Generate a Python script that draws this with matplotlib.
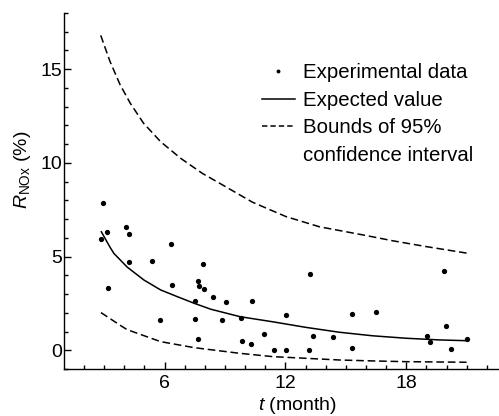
import numpy as np
import matplotlib
matplotlib.use('Agg')
import matplotlib.pyplot as plt
from matplotlib.lines import Line2D

plt.rcParams['font.family'] = ['Liberation Sans', 'DejaVu Sans']
plt.rcParams['mathtext.fontset'] = 'custom'
plt.rcParams['mathtext.rm'] = 'Liberation Sans'
plt.rcParams['mathtext.it'] = 'Liberation Sans:italic'

# experimental points (t in months, R_NOx in %)
t_exp = [2.94, 2.86, 3.13, 3.19, 4.07, 4.24, 4.21, 5.38, 5.78, 6.31, 6.38,
         7.52, 7.51, 7.64, 7.72, 7.92, 7.96, 7.64, 8.41, 9.07, 8.87, 9.81,
         9.83, 10.36, 10.30, 10.95, 11.41, 12.04, 12.04, 13.24, 13.19, 13.39,
         14.38, 15.29, 15.29, 16.47, 19.05, 19.15, 19.87, 19.96, 20.22, 20.99]
r_exp = [7.87, 5.92, 6.33, 3.32, 6.59, 6.19, 4.71, 4.75, 1.63, 5.65, 3.47,
         2.61, 1.65, 3.71, 3.45, 4.62, 3.25, 0.59, 2.84, 2.56, 1.63, 1.71,
         0.51, 2.65, 0.32, 0.89, 0.0, 0.0, 1.90, 4.09, 0.0, 0.78,
         0.69, 1.94, 0.11, 2.04, 0.75, 0.46, 4.23, 1.30, 0.09, 0.59]

# expected value curve
t_fit = [2.86, 3.29, 3.48, 4.14, 4.97, 5.80, 6.63, 7.46, 8.29, 9.75, 11.36,
         13.02, 14.68, 16.34, 18.0, 19.66, 20.99]
r_fit = [6.32, 5.50, 5.17, 4.44, 3.75, 3.22, 2.86, 2.51, 2.19, 1.79, 1.52,
         1.22, 0.96, 0.77, 0.64, 0.55, 0.51]

# bounds of 95% confidence interval
t_up = [2.83, 3.29, 3.79, 4.29, 4.95, 5.80, 6.80, 7.87, 8.70, 10.36, 12.03,
        13.68, 16.01, 17.33, 18.99, 21.07]
r_up = [16.80, 15.41, 14.17, 13.19, 12.12, 11.13, 10.24, 9.44, 8.93, 7.90,
        7.13, 6.59, 6.12, 5.84, 5.53, 5.17]
t_low = [2.84, 3.87, 4.14, 5.80, 7.46, 9.70, 11.36, 13.02, 14.68, 16.34,
         18.0, 20.99]
r_low = [2.01, 1.28, 1.10, 0.46, 0.14, -0.16, -0.34, -0.43, -0.52, -0.57,
         -0.61, -0.64]

fig = plt.figure(figsize=(4.99, 4.16), dpi=100)
ax = fig.add_axes([0.128, 0.113, 0.872, 0.856])

ax.plot(t_exp, r_exp, 'o', color='black', ms=3.8, mec='none')
ax.plot(t_fit, r_fit, '-', color='black', lw=1.1)
ax.plot(t_up, r_up, color='black', lw=1.1, dashes=(5, 2.5))
ax.plot(t_low, r_low, color='black', lw=1.1, dashes=(5, 2.5))

ax.set_xlim(1, 22.6)
ax.set_ylim(-1, 18)
ax.set_xticks([6, 12, 18])
ax.set_xticks(np.arange(2, 23), minor=True)
ax.set_yticks([0, 5, 10, 15])
ax.set_yticks(np.arange(-1, 19), minor=True)
ax.tick_params(which='both', direction='in', width=1, labelsize=14)
ax.tick_params(which='major', length=5)
ax.tick_params(which='minor', length=3)
ax.tick_params(axis='x', pad=4)
ax.tick_params(axis='y', pad=1.5)
for s in ['top', 'right']:
    ax.spines[s].set_visible(False)
for s in ['left', 'bottom']:
    ax.spines[s].set_linewidth(1)

ax.set_xlabel('$t$ (month)', fontsize=14)
ax.set_ylabel(r'$R_{\mathrm{NOx}}$ (%)', fontsize=14)
ax.xaxis.set_label_coords(0.536, -0.074)
ax.yaxis.set_label_coords(-0.071, 0.559)

handles = [
    Line2D([], [], ls='none', marker='o', color='black', ms=2.8, mec='none'),
    Line2D([], [], ls='-', color='black', lw=1.1),
    Line2D([], [], color='black', lw=1.1, dashes=(3.5, 2.0)),
    Line2D([], [], ls='none'),
]
labels = ['Experimental data', 'Expected value', 'Bounds of 95%', 'confidence interval']
fig.legend(handles, labels, loc='upper left', bbox_to_anchor=(0.525, 0.848),
           frameon=False, fontsize=14.7, handlelength=1.6, handletextpad=0.4,
           labelspacing=0.42, borderpad=0, borderaxespad=0)

fig.savefig('out.png', dpi=100)
